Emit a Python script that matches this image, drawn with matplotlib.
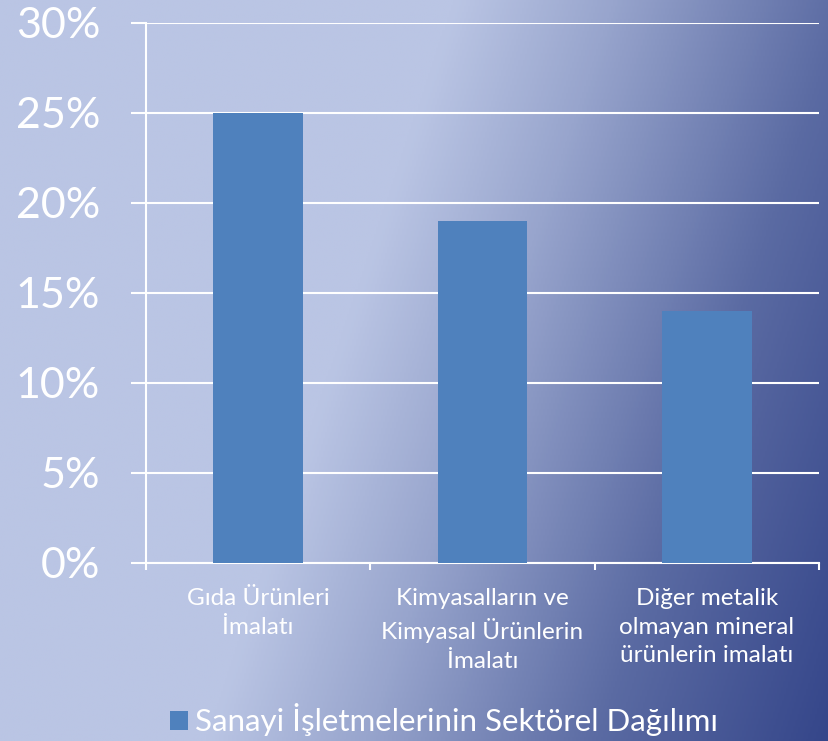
import numpy as np
import matplotlib.pyplot as plt
from matplotlib.colors import LinearSegmentedColormap

categories = ['Gıda Ürünleri\nİmalatı',
              'Kimyasalların ve\nKimyasal Ürünlerin\nİmalatı',
              'Diğer metalik\nolmayan mineral\nürünlerin imalatı']
values = [25, 19, 14]
series_name = 'Sanayi İşletmelerinin Sektörel Dağılımı'
yticks = [0, 5, 10, 15, 20, 25, 30]

plt.rcParams['font.family'] = ['Lato', 'DejaVu Sans']

fig = plt.figure(figsize=(8.29, 7.41), dpi=100)

# arka plan gradyanı (sol açık, sağ alt koyu)
bg = fig.add_axes([0, 0, 1, 1], zorder=-10)
u, v = np.meshgrid(np.linspace(0, 1, 400), np.linspace(0, 1, 360))
s = u + 0.3 * v
smax = 1.3
stops = [(0.0, '#bac5e4'), (0.55, '#bac5e4'), (0.74, '#98a5cd'),
         (1.02, '#5b6ba3'), (smax, '#35468a')]
cmap = LinearSegmentedColormap.from_list('bg', [(p / smax, c) for p, c in stops])
bg.imshow(s, cmap=cmap, aspect='auto', extent=[0, 1, 0, 1], origin='upper', vmin=0, vmax=smax)
bg.axis('off')

ax = fig.add_axes([146 / 829, 1 - 563 / 741, 673 / 829, 540 / 741])
ax.patch.set_alpha(0)

x = np.arange(len(categories))
ax.bar(x, values, width=0.4, color='#4f81bd', label=series_name, zorder=3)

ax.set_xlim(-0.5, len(categories) - 0.5)
ax.set_ylim(0, 30)
ax.set_yticks(yticks)
ax.set_yticklabels([f'{y}%' for y in yticks], fontsize=31, color='white')
ax.yaxis.grid(True, color='white', linewidth=1.5, zorder=1)
ax.tick_params(axis='y', length=11, width=1.5, color='white', pad=22)

ax.set_xticks(x)
ax.set_xticklabels(categories, fontsize=17.5, color='white', linespacing=1.45)
ax.set_xticks(np.arange(-0.5, len(categories)), minor=True)
ax.tick_params(axis='x', which='major', length=0, pad=18)
ax.tick_params(axis='x', which='minor', length=5, width=1.5, color='white')

for side in ['top', 'right']:
    ax.spines[side].set_visible(False)
for side in ['left', 'bottom']:
    ax.spines[side].set_color('white')
    ax.spines[side].set_linewidth(1.5)

fig.legend(loc='center', bbox_to_anchor=(0.536, 1 - 720 / 741), frameon=False,
           fontsize=22.5, handlelength=0.55, handleheight=0.55, handletextpad=0.25,
           labelcolor='white')

fig.savefig('out.png', dpi=100)
